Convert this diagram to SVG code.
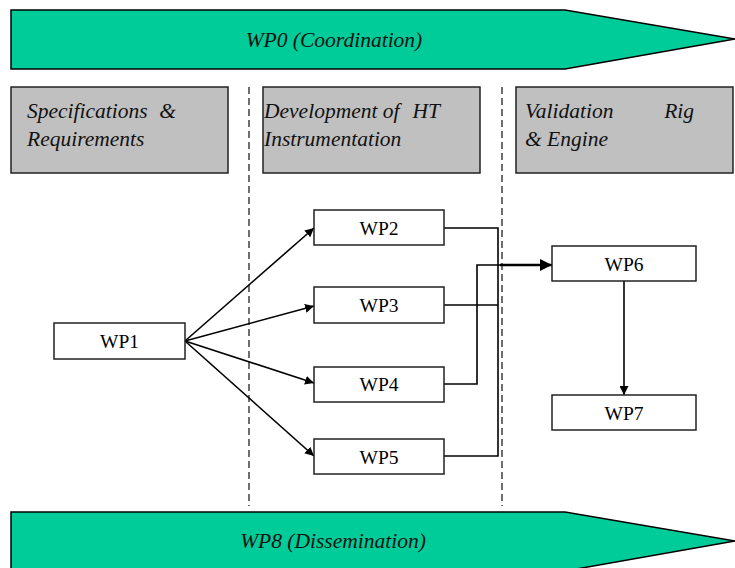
<svg xmlns="http://www.w3.org/2000/svg" width="735" height="568" viewBox="0 0 735 568">
<style>
.band{fill:#00CC99;stroke:#000;stroke-width:1.5}
.phase{fill:#C0C0C0;stroke:#222;stroke-width:1.5}
.wp{fill:#fff;stroke:#222;stroke-width:1.5}
.it{font-family:"Liberation Serif",serif;font-style:italic;font-size:21.5px;fill:#111}
.lbl{font-family:"Liberation Serif",serif;font-size:19.5px;fill:#000;text-anchor:middle}
.dash{stroke:#222;stroke-width:1.3;stroke-dasharray:7,4;fill:none}
.ln{stroke:#000;stroke-width:1.6;fill:none}
</style>
<defs>
<marker id="ah" viewBox="0 0 10 10" refX="10" refY="5" markerWidth="9" markerHeight="9" markerUnits="userSpaceOnUse" orient="auto">
<path d="M0,0 L10,5 L0,10 z" fill="#000"/>
</marker>
<marker id="ah2" viewBox="0 0 10 10" refX="10" refY="5" markerWidth="12" markerHeight="12" markerUnits="userSpaceOnUse" orient="auto">
<path d="M0,0 L10,5 L0,10 z" fill="#000"/>
</marker>
</defs>
<rect width="735" height="568" fill="#fff"/>
<g id="wp0">
<path class="band" d="M11,10 H565 L735,39 L565,69 H11 Z"/>
<text class="it" x="334" y="47" text-anchor="middle">WP0 (Coordination)</text>
</g>
<g id="wp8">
<path class="band" d="M11,512 H565 L735,541 L565,571 H11 Z"/>
<text class="it" x="333" y="548" text-anchor="middle">WP8 (Dissemination)</text>
</g>
<g id="phase1">
<rect class="phase" x="11" y="87" width="217" height="86"/>
<text class="it" x="27" y="118">Specifications</text>
<text class="it" x="176" y="118" text-anchor="end">&amp;</text>
<text class="it" x="27" y="146">Requirements</text>
</g>
<g id="phase2">
<rect class="phase" x="263" y="87" width="217" height="86"/>
<text class="it" x="264" y="118">Development of</text>
<text class="it" x="440" y="118" text-anchor="end">HT</text>
<text class="it" x="264" y="146">Instrumentation</text>
</g>
<g id="phase3">
<rect class="phase" x="516" y="87" width="217" height="86"/>
<text class="it" x="525" y="118">Validation</text>
<text class="it" x="694" y="118" text-anchor="end">Rig</text>
<text class="it" x="525" y="146">&amp; Engine</text>
</g>
<g id="separators">
<line class="dash" x1="249" y1="87" x2="249" y2="506"/>
<line class="dash" x1="502" y1="87" x2="502" y2="506"/>
</g>
<g id="connectors">
<line class="ln" x1="185" y1="341" x2="314" y2="228" marker-end="url(#ah)"/>
<line class="ln" x1="185" y1="341" x2="314" y2="306" marker-end="url(#ah)"/>
<line class="ln" x1="185" y1="341" x2="314" y2="383" marker-end="url(#ah)"/>
<line class="ln" x1="185" y1="341" x2="314" y2="456" marker-end="url(#ah)"/>
<polyline class="ln" points="444,228 498,228 498,456 444,456"/>
<line class="ln" x1="444" y1="305" x2="498" y2="305"/>
<polyline class="ln" points="444,384 477,384 477,265 500,265"/>
<line x1="500" y1="265" x2="552" y2="265" stroke="#000" stroke-width="2.5" marker-end="url(#ah2)"/>
<line class="ln" x1="624" y1="281" x2="624" y2="395" marker-end="url(#ah)"/>
</g>
<g id="wp1"><rect class="wp" x="54" y="323" width="131" height="36"/><text class="lbl" x="119.5" y="348">WP1</text></g>
<g id="wp2"><rect class="wp" x="314" y="210" width="130" height="35"/><text class="lbl" x="379" y="235">WP2</text></g>
<g id="wp3"><rect class="wp" x="314" y="287" width="130" height="36"/><text class="lbl" x="379" y="312">WP3</text></g>
<g id="wp4"><rect class="wp" x="314" y="367" width="130" height="35"/><text class="lbl" x="379" y="391">WP4</text></g>
<g id="wp5"><rect class="wp" x="314" y="439" width="130" height="35"/><text class="lbl" x="379" y="464">WP5</text></g>
<g id="wp6"><rect class="wp" x="552" y="246" width="144" height="35"/><text class="lbl" x="624" y="271">WP6</text></g>
<g id="wp7"><rect class="wp" x="552" y="395" width="144" height="35"/><text class="lbl" x="624" y="420">WP7</text></g>
</svg>
